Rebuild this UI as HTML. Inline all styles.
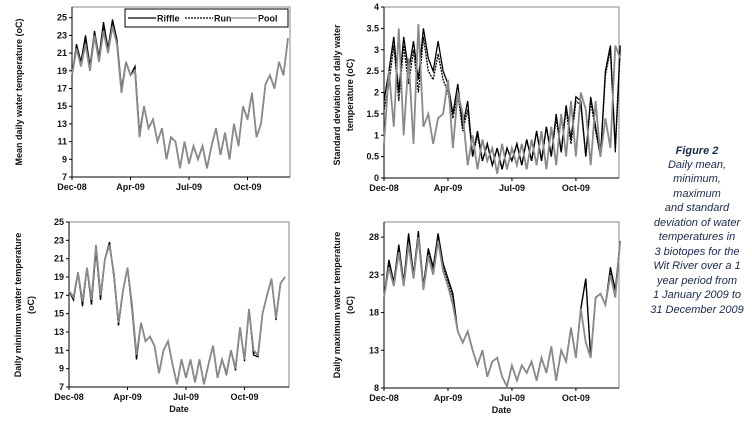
<!DOCTYPE html>
<html><head><meta charset="utf-8"><style>
body{margin:0;background:#fff;width:752px;height:422px;overflow:hidden}
svg{font-family:"Liberation Sans",Arial,sans-serif}
.t{font-size:9px;font-weight:bold;fill:#111}
.ti{font-size:9px;font-weight:bold;fill:#111}
.cap{font-size:11px;font-style:italic;fill:#1a2a4a}
</style></head><body>
<svg id="c" width="752" height="422">
<g>
<text class="cap" x="697" y="154" text-anchor="middle" font-weight="bold">Figure 2</text>
<text class="cap" x="697" y="168" text-anchor="middle">Daily mean,</text>
<text class="cap" x="697" y="182" text-anchor="middle">minimum,</text>
<text class="cap" x="697" y="197" text-anchor="middle">maximum</text>
<text class="cap" x="697" y="211" text-anchor="middle">and standard</text>
<text class="cap" x="697" y="226" text-anchor="middle">deviation of water</text>
<text class="cap" x="697" y="240" text-anchor="middle">temperatures in</text>
<text class="cap" x="697" y="255" text-anchor="middle">3 biotopes for the</text>
<text class="cap" x="697" y="269" text-anchor="middle">Wit River over a 1</text>
<text class="cap" x="697" y="284" text-anchor="middle">year period from</text>
<text class="cap" x="697" y="298" text-anchor="middle">1 January 2009 to</text>
<text class="cap" x="697" y="313" text-anchor="middle">31 December 2009</text>
</g>
</svg>
<script>
const days=[0,7,14,21,28,35,42,49,56,63,70,77,84,91,98,105,112,119,126,133,140,147,154,161,168,175,182,189,196,203,210,217,224,231,238,245,252,259,266,273,280,287,294,301,308,315,322,329,336];
const xTickDays=[0,91,182,273];
const xTickLabels=["Dec-08","Apr-09","Jul-09","Oct-09"];
// mean
const meanRiffle=[18.5,22,20,23,19.5,23.5,20.5,24.5,21.5,24.8,22.5,17,20,18.5,19.5,12,15,12.5,13.5,11,12.5,9,11.5,11,8,11,8.5,10.5,9,10.5,8,10.5,12.5,9.5,12,9,13,10.5,15,13.5,16.5,11.5,13,17.5,18.5,17,20,18.5,22.7];
const meanRun=[18.5,21.5,19.5,22.5,19,23,20,24,21,24.5,22,16.8,20,18.5,19,11.8,15,12.5,13.5,11,12.5,9,11.5,11,8,11,8.5,10.5,9,10.5,8,10.5,12.5,9.5,12,9,13,10.5,15,13.5,16.5,11.5,13,17.5,18.5,17,20,18.5,22.7];
const meanPool=[18.5,21.5,19.5,22,19,23,20,23.5,21,24,22,16.5,20,18.5,19,11.5,15,12.5,13.5,11,12.5,9,11.5,11,8,11,8.5,10.5,9,10.5,8,10.5,12.5,9.5,12,9,13,10.5,15,13.5,16.5,11.5,13,17.5,18.5,17,20,18.5,22.7];
// sd
const sdRiffle=[1.8,2.5,3.3,2,3.3,2.5,3.2,2.3,3.5,2.8,2.5,3.2,2.5,2.2,1.5,2.2,1.2,1.8,0.5,1.1,0.4,0.8,0.3,0.7,0.2,0.7,0.4,0.8,0.3,0.9,0.4,1.1,0.4,1.2,0.5,1.5,0.6,1.7,0.9,1.9,1.8,0.5,1.9,1.2,0.5,2.5,3.1,0.7,3.1];
const sdRun=[1.6,2.2,3.1,1.8,3.1,2.2,3.0,2.0,3.3,2.5,2.3,2.9,2.3,2.0,1.4,2.0,1.1,1.6,0.5,1.0,0.4,0.8,0.3,0.7,0.2,0.7,0.4,0.8,0.3,0.9,0.4,1.1,0.4,1.2,0.5,1.4,0.6,1.6,0.8,1.8,1.7,0.5,1.8,1.1,0.5,2.4,3.0,0.6,3.0];
const sdPool=[0.8,2.5,1.2,3.5,1,2.8,0.8,3.6,1.2,1.5,0.8,1.4,1.5,2.3,0.7,2,1.5,0.3,1,0.2,0.9,0.4,0.7,0.1,0.8,0.2,0.7,0.3,0.8,0.2,0.9,0.3,1.1,0.2,1.2,0.3,1.5,0.5,1.8,0.5,2,1.6,0.3,1.8,0.5,1.4,0.7,3.1,2.8];
// min
const minRiffle=[17.5,16.5,19.5,15.8,20,16,22,16.5,21,22.8,19,13.7,17.5,20,15.5,10,14,12,12.5,11.5,8.5,11,12,9.5,7.3,10,8,10,7.5,10,7.3,9.5,11.5,8,10,8.3,11,8.8,13.5,9.8,15.5,10.5,10.3,15,17,18.8,14.3,18.3,19];
const minRun=[17.5,16.5,19.5,16,20,16,22,16.8,21,22.8,19,13.8,17.5,20,15.8,10.2,14,12,12.5,11.5,8.5,11,12,9.5,7.3,10,8,10,7.5,10,7.3,9.5,11.5,8,10,8.5,11,9,13.5,10,15.5,10.8,10.5,15,17,18.8,14.5,18.3,19];
const minPool=[17.5,16.8,19.5,16.3,20,16.5,22.5,17,21,22.5,19.3,14,17.5,20,16,10.5,14,12,12.5,11.5,8.5,11,12,9.5,7.3,10,8,10,7.5,10,7.3,9.5,11.5,8,10,8.5,11,9,13.5,10,15.5,11,10.5,15,17,18.8,14.5,18.3,19];
// max
const maxRiffle=[20,25,22,27,22,28.5,23,28.8,21.5,26.5,24,28.5,24.5,22.5,20.5,15.5,14,15.5,13,11,13,9.5,11.5,12,9.5,8.2,11,9,11,10,11.5,9,12,10,13.5,9,13,11.5,16,12,18.5,22.5,12,20,20.5,19,24,21,27.5];
const maxRun=[20,24.5,22,26.5,22,28,23,28.5,21.5,26,23.5,28,24,22,20,15.5,14,15.5,13,11,13,9.5,11.5,12,9.5,8.2,11,9,11,10,11.5,9,12,10,13.5,9,13,11.5,16,12,18.5,22.5,12,20,20.5,19,23.5,20.5,27.5];
const maxPool=[20,24,21.5,26,21.5,27,22.5,28,21,25.5,23,27.5,23.5,21.5,19,15.5,14,15.5,13,11,13,9.5,11.5,12,9.5,8.2,11,9,11,10,11.5,9,12,10,13.5,9,13,11.5,16,12,18.5,14,12,20,20.5,19,23,20,27.5];

const NS="http://www.w3.org/2000/svg";
const svg=document.getElementById('c');
function mk(tag,attrs,parent){const e=document.createElementNS(NS,tag);for(const k in attrs)e.setAttribute(k,attrs[k]);(parent||svg).appendChild(e);return e;}

function panel(cfg){
  const g=mk('g',{});
  
  
  const {l,r,t,b,y0,y1,x0,pxPerDay}=cfg;
  const X=d=>x0+d*pxPerDay;
  const Y=v=>b-(v-y0)/(y1-y0)*(b-cfg.yTop);
  const frame=mk('rect',{x:l,y:t,width:r-l,height:b-t,fill:'none',stroke:'#888','stroke-width':1},g);
  
  
  mk('line',{x1:l,y1:t,x2:l,y2:b,stroke:'#000'},g);
  mk('line',{x1:l,y1:b,x2:r,y2:b,stroke:'#000'},g);
  cfg.yTicks.forEach(v=>{
    mk('line',{x1:l-3,y1:Y(v),x2:l,y2:Y(v),stroke:'#000'},g);
    const tx=mk('text',{x:l-5,y:Y(v)+3,'text-anchor':'end',class:'t'},g);
    tx.textContent=v;
    
    
  });
  xTickDays.forEach((d,i)=>{
    mk('line',{x1:X(d),y1:b,x2:X(d),y2:b+3,stroke:'#000'},g);
    const tx=mk('text',{x:X(d),y:b+13,'text-anchor':'middle',class:'t'},g);
    tx.textContent=xTickLabels[i];
    
    
  });
  const series=[[cfg.riffle,'#000','none',1.3,'riffle-line'],[cfg.run,'#000','2,1',1.3,'run-line'],[cfg.pool,'#8a8a8a','none',1.8,'pool-line']];
  series.forEach(s=>{
    const pts=s[0].map((v,i)=>X(days[i]).toFixed(1)+','+Y(v).toFixed(1)).join(' ');
    const p=mk('polyline',{points:pts,fill:'none',stroke:s[1],'stroke-dasharray':s[2],'stroke-width':s[3]},g);
    
    
  });
  cfg.title.forEach((line,i)=>{
    const cx=cfg.titleX+i*13;
    const tx=mk('text',{x:cx,y:cfg.titleY,'text-anchor':'middle',class:'ti',transform:`rotate(-90 ${cx} ${cfg.titleY})`},g);
    tx.textContent=line;
    
    
  });
  if(cfg.date){
    const tx=mk('text',{x:(l+r)/2,y:b+25,'text-anchor':'middle',class:'t'},g);
    tx.textContent='Date';
    
    
  }
  return g;
}
panel({name:'mean-panel',l:72,r:290,t:7,b:177,yTop:17.7,y0:7,y1:25,x0:72,pxPerDay:0.643,yTicks:[7,9,11,13,15,17,19,21,23,25],riffle:meanRiffle,run:meanRun,pool:meanPool,title:['Mean daily water temperature (oC)'],titleX:22,titleY:92});
panel({name:'sd-panel',l:384,r:619,t:7,b:178,yTop:7,y0:0,y1:4,x0:384,pxPerDay:0.703,yTicks:[0,0.5,1,1.5,2,2.5,3,3.5,4],riffle:sdRiffle,run:sdRun,pool:sdPool,title:['Standard deviation of daily water','temperature (oC)'],titleX:340,titleY:95});
panel({name:'min-panel',l:69,r:289,t:222,b:387,yTop:222,y0:7,y1:25,x0:69,pxPerDay:0.643,yTicks:[7,9,11,13,15,17,19,21,23,25],riffle:minRiffle,run:minRun,pool:minPool,title:['Daily minimum water temperature','(oC)'],titleX:21,titleY:305,date:true});
panel({name:'max-panel',l:384,r:619,t:222,b:388,yTop:222,y0:8,y1:30,x0:384,pxPerDay:0.703,yTicks:[8,13,18,23,28],riffle:maxRiffle,run:maxRun,pool:maxPool,title:['Daily maximum water temperature','(oC)'],titleX:340,titleY:305,date:true});

// legend
const lg=mk('g',{});


mk('rect',{x:125,y:9,width:163,height:18,fill:'#fff',stroke:'#000'},lg);
const items=[['Riffle',136,'#000','none'],['Run',193,'#000','2,1'],['Pool',237,'#8a8a8a','none']];
items.forEach(it=>{
  const e=mk('g',{},lg);
  
  
  mk('line',{x1:it[1]-8,y1:18,x2:it[1]+20,y2:18,stroke:it[2],'stroke-dasharray':it[3],'stroke-width':1.2},e);
  const tx=mk('text',{x:it[1]+21,y:21.5,class:'t'},e);
  tx.textContent=it[0];
});
</script>
</body></html>
